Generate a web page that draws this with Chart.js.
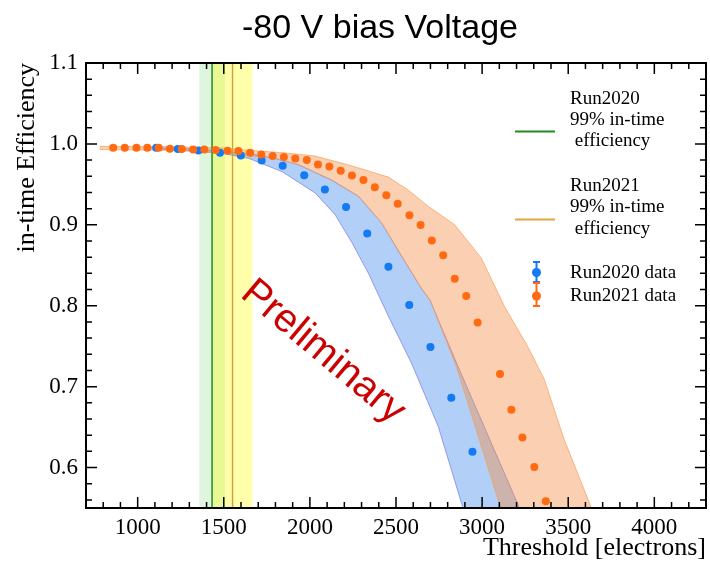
<!DOCTYPE html>
<html>
<head>
<meta charset="utf-8">
<script src="https://cdn.jsdelivr.net/npm/chart.js@4.4.0/dist/chart.umd.min.js"></script>
<style>
  body { margin: 0; background: #fff; }
</style>
</head>
<body>
<canvas id="eff-chart" width="710" height="564"></canvas>
<script>
// in-time efficiency vs threshold, -80 V bias

const run2020Threshold = [1108, 1233, 1353, 1478, 1599, 1720, 1842, 1967, 2087, 2210, 2333, 2456, 2577, 2700, 2821, 2944];
const run2020Eff = [0.9952, 0.9936, 0.992, 0.989, 0.9858, 0.9795, 0.973, 0.9614, 0.9437, 0.9219, 0.8894, 0.8481, 0.801, 0.749, 0.6862, 0.6196];

const run2021Threshold = [858, 925, 993, 1056, 1122, 1187, 1256, 1322, 1387, 1453, 1522, 1585, 1653, 1718, 1784, 1849,
  1915, 1982, 2047, 2113, 2179, 2244, 2311, 2377, 2444, 2510, 2578, 2643, 2708, 2774, 2841, 2908, 2974, 3104, 3170, 3234, 3303, 3370];
const run2021Eff = [0.9952, 0.9952, 0.9952, 0.9952, 0.9952, 0.994, 0.9936, 0.9932, 0.9932, 0.9924, 0.9915, 0.9911, 0.989, 0.987, 0.985, 0.9837,
  0.982, 0.980, 0.9747, 0.9722, 0.9668, 0.961, 0.9554, 0.9464, 0.9365, 0.9261, 0.9118, 0.8999, 0.8805, 0.8625, 0.8333, 0.812, 0.7794, 0.7155, 0.6714, 0.6372, 0.6006, 0.5583];

// uncertainty bands [threshold, efficiency]
const band2020Upper = [[1080, 0.9955], [1300, 0.994], [1500, 0.991], [1647, 0.988], [1800, 0.982], [1936, 0.974], [2128, 0.955], [2283, 0.935],
  [2417, 0.902], [2533, 0.861], [2648, 0.821], [2697, 0.807], [2860, 0.725], [3207, 0.555], [3320, 0.50]];
const band2020Lower = [[1080, 0.994], [1300, 0.992], [1500, 0.988], [1647, 0.982], [1840, 0.9656], [2033, 0.939], [2148, 0.912], [2244, 0.878],
  [2340, 0.840], [2456, 0.787], [2590, 0.729], [2745, 0.651], [2879, 0.557], [2960, 0.50]];
const band2021Upper = [[780, 0.997], [1200, 0.9965], [1500, 0.995], [1650, 0.992], [1850, 0.989], [2030, 0.985], [2225, 0.974], [2456, 0.959],
  [2571, 0.943], [2687, 0.923], [2841, 0.900], [2995, 0.859], [3130, 0.799], [3264, 0.750], [3361, 0.709], [3476, 0.635], [3630, 0.5525], [3730, 0.50]];
const band2021Lower = [[780, 0.993], [1200, 0.992], [1500, 0.9885], [1650, 0.9855], [1800, 0.982], [1936, 0.9745], [2128, 0.9555], [2283, 0.9355],
  [2417, 0.9025], [2533, 0.8615], [2648, 0.8215], [2697, 0.8075], [2850, 0.725], [3101, 0.5546], [3180, 0.50]];

// 99% in-time efficiency threshold and its range
const thr99Run2020 = 1432;
const thr99Run2020Range = [1358, 1507];
const thr99Run2021 = 1551;
const thr99Run2021Range = [1436, 1666];

const xTickValues = [1000, 1500, 2000, 2500, 3000, 3500, 4000];
const yTickValues = [0.6, 0.7, 0.8, 0.9, 1.0, 1.1];
const xMin = 700, xMax = 4300;
const yMin = 0.55, yMax = 1.1;

const blue = '#1479f5';
const orange = '#ff6a12';
const serif = "'Liberation Serif', 'Times New Roman', serif";

function toPoints(xs, ys) {
  return xs.map((x, i) => ({x: x, y: ys[i]}));
}
function polygon(upper, lower) {
  return upper.concat(lower.slice().reverse()).map(p => ({x: p[0], y: p[1]}));
}
function vband(range) {
  return [{x: range[0], y: yMin}, {x: range[0], y: yMax}, {x: range[1], y: yMax}, {x: range[1], y: yMin}];
}
function vline(x) {
  return [{x: x, y: yMin}, {x: x, y: yMax}];
}

// inward ticks on all four sides + frame
const frameTicks = {
  id: 'frameTicks',
  afterDatasetsDraw(chart) {
    const {ctx, chartArea: a, scales: {x, y}} = chart;
    ctx.save();
    ctx.strokeStyle = '#000';
    ctx.lineWidth = 1.5;
    ctx.beginPath();
    for (let v = xMin; v <= xMax; v += 100) {
      const px = x.getPixelForValue(v);
      const len = v % 500 === 0 ? 11 : 6;
      ctx.moveTo(px, a.bottom); ctx.lineTo(px, a.bottom - len);
      ctx.moveTo(px, a.top); ctx.lineTo(px, a.top + len);
    }
    for (let k = 56; k <= 110; k += 2) {
      const py = y.getPixelForValue(k / 100);
      const len = k % 10 === 0 ? 11 : 6;
      ctx.moveTo(a.left, py); ctx.lineTo(a.left + len, py);
      ctx.moveTo(a.right, py); ctx.lineTo(a.right - len, py);
    }
    ctx.stroke();
    ctx.lineWidth = 2;
    ctx.strokeRect(a.left, a.top, a.width, a.height);
    ctx.restore();
  }
};

// title, watermark and legend
const decorations = {
  id: 'decorations',
  afterDraw(chart) {
    const ctx = chart.ctx;
    ctx.save();
    ctx.fillStyle = '#000';
    ctx.font = "34px 'Liberation Sans', Arial, sans-serif";
    ctx.textAlign = 'center';
    ctx.textBaseline = 'alphabetic';
    ctx.fillText('-80 V bias Voltage', 380, 38);

    ctx.save();
    ctx.translate(323, 352);
    ctx.rotate(40 * Math.PI / 180);
    ctx.fillStyle = '#cc0000';
    ctx.font = "40px 'Liberation Sans', Arial, sans-serif";
    ctx.textAlign = 'center';
    ctx.textBaseline = 'middle';
    ctx.fillText('Preliminary', 0, 0);
    ctx.restore();

    // legend
    ctx.textAlign = 'left';
    ctx.textBaseline = 'middle';
    ctx.font = '19px ' + serif;
    ctx.fillStyle = '#000';
    ctx.fillText('Run2020', 570, 99);
    ctx.fillText('99% in-time', 570, 120);
    ctx.fillText(' efficiency', 570, 141);
    ctx.fillText('Run2021', 570, 186);
    ctx.fillText('99% in-time', 570, 207.5);
    ctx.fillText(' efficiency', 570, 229);
    ctx.fillText('Run2020 data', 570, 273.5);
    ctx.fillText('Run2021 data', 570, 296.5);

    ctx.lineWidth = 2;
    ctx.strokeStyle = '#228b22';
    ctx.beginPath(); ctx.moveTo(515, 131.5); ctx.lineTo(555, 131.5); ctx.stroke();
    ctx.strokeStyle = '#e0a840';
    ctx.beginPath(); ctx.moveTo(515, 219.5); ctx.lineTo(555, 219.5); ctx.stroke();

    const marker = (cy, top, bottom, color) => {
      ctx.strokeStyle = color;
      ctx.fillStyle = color;
      ctx.lineWidth = 2;
      ctx.beginPath();
      ctx.moveTo(536.5, top); ctx.lineTo(536.5, bottom);
      ctx.moveTo(533, top); ctx.lineTo(540, top);
      ctx.moveTo(533, bottom); ctx.lineTo(540, bottom);
      ctx.stroke();
      ctx.beginPath(); ctx.arc(536.5, cy, 4.5, 0, Math.PI * 2); ctx.fill();
    };
    marker(272.5, 262, 282, blue);
    marker(296, 283, 306, orange);
    ctx.restore();
  }
};

new Chart(document.getElementById('eff-chart'), {
  type: 'scatter',
  data: {
    datasets: [
      {
        label: 'Run2021 data',
        data: toPoints(run2021Threshold, run2021Eff),
        backgroundColor: orange,
        borderWidth: 0,
        pointRadius: 4,
        order: 0
      },
      {
        label: 'Run2020 data',
        data: toPoints(run2020Threshold, run2020Eff),
        backgroundColor: blue,
        borderWidth: 0,
        pointRadius: 4,
        order: 1
      },
      {
        label: 'Run2020 99% in-time efficiency',
        data: vline(thr99Run2020),
        showLine: true,
        borderColor: '#228b22',
        borderWidth: 1.5,
        pointRadius: 0,
        order: 2
      },
      {
        label: 'Run2021 99% in-time efficiency',
        data: vline(thr99Run2021),
        showLine: true,
        borderColor: 'rgba(205,150,60,0.9)',
        borderWidth: 1.5,
        pointRadius: 0,
        order: 3
      },
      {
        label: 'Run2021 band',
        data: polygon(band2021Upper, band2021Lower),
        showLine: true,
        fill: 'shape',
        backgroundColor: 'rgba(245,140,70,0.42)',
        borderColor: 'rgba(245,160,90,0.7)',
        borderWidth: 1,
        pointRadius: 0,
        order: 4
      },
      {
        label: 'Run2020 band',
        data: polygon(band2020Upper, band2020Lower),
        showLine: true,
        fill: 'shape',
        backgroundColor: 'rgba(100,160,240,0.5)',
        borderColor: 'rgba(120,120,225,0.7)',
        borderWidth: 1,
        pointRadius: 0,
        order: 5
      },
      {
        label: 'Run2021 range',
        data: vband(thr99Run2021Range),
        showLine: true,
        fill: 'shape',
        backgroundColor: 'rgba(255,255,0,0.33)',
        borderWidth: 0,
        pointRadius: 0,
        order: 6
      },
      {
        label: 'Run2020 range',
        data: vband(thr99Run2020Range),
        showLine: true,
        fill: 'shape',
        backgroundColor: 'rgba(120,220,120,0.25)',
        borderWidth: 0,
        pointRadius: 0,
        order: 7
      }
    ]
  },
  options: {
    responsive: false,
    animation: false,
    devicePixelRatio: 1,
    layout: { padding: { top: 63, right: 1, left: 0, bottom: 0 } },
    plugins: {
      legend: { display: false },
      title: { display: false },
      tooltip: { enabled: false }
    },
    scales: {
      x: {
        type: 'linear',
        min: xMin,
        max: xMax,
        afterBuildTicks: s => { s.ticks = xTickValues.map(v => ({value: v})); },
        afterFit: s => { s.height = 56; },
        grid: { display: false, drawTicks: false },
        border: { display: false },
        ticks: {
          autoSkip: false,
          padding: 6,
          color: '#000',
          font: { family: serif, size: 23 },
          maxRotation: 0,
          callback: v => String(v)
        },
        title: {
          display: true,
          text: 'Threshold [electrons]',
          align: 'end',
          color: '#000',
          font: { family: serif, size: 26 },
          padding: { top: 0, bottom: 0 }
        }
      },
      y: {
        type: 'linear',
        min: yMin,
        max: yMax,
        afterBuildTicks: s => { s.ticks = yTickValues.map(v => ({value: v})); },
        afterFit: s => { s.width = 86; },
        grid: { display: false, drawTicks: false },
        border: { display: false },
        ticks: {
          autoSkip: false,
          padding: 8,
          color: '#000',
          font: { family: serif, size: 23 },
          callback: v => v.toFixed(1)
        },
        title: {
          display: true,
          text: 'in-time Efficiency',
          align: 'end',
          color: '#000',
          font: { family: serif, size: 26 },
          padding: { top: 12, bottom: 0 }
        }
      }
    }
  },
  plugins: [frameTicks, decorations]
});
</script>
</body>
</html>
